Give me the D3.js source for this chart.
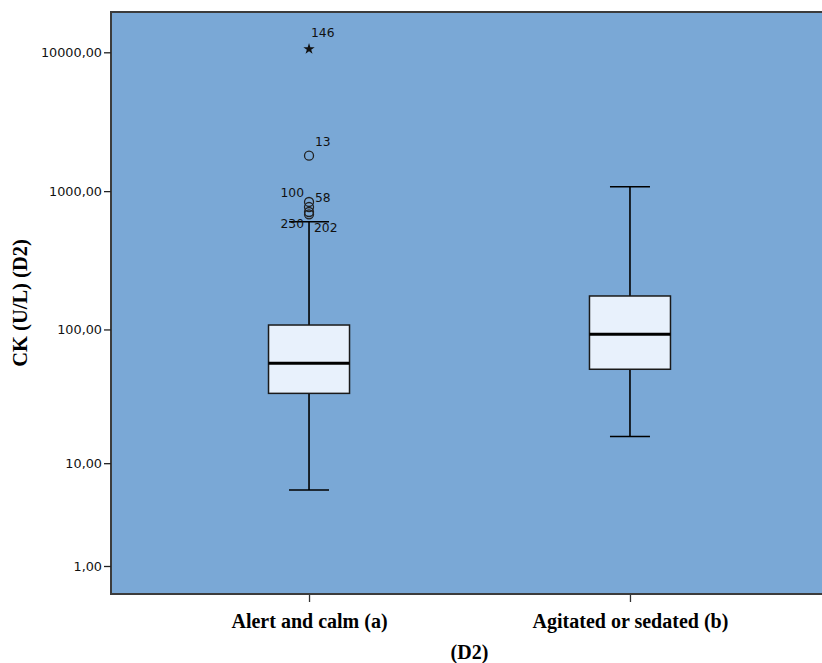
<!DOCTYPE html>
<html><head><meta charset="utf-8">
<script src="https://cdn.jsdelivr.net/npm/d3@7"></script>
<style>body{margin:0;background:#fff}svg{display:block}</style>
</head><body>
<svg id="c" width="822" height="663"></svg>
<script>
// ---- data ----
const categories = ["Alert and calm (a)", "Agitated or sedated (b)"];
const whiskerLow  = [6.05, 16.1];
const q1          = [34.0, 51.2];
const median      = [56.6, 92.2];
const q3          = [107.7, 174.9];
const whiskerHigh = [602, 1076];
const outlierIds    = ["146", "13", "100", "58", "230", "202"];
const outlierGroup  = [0, 0, 0, 0, 0, 0];
const outlierValues = [10560, 1800, 835, 768, 707, 680];
const outlierKind   = ["extreme", "outlier", "outlier", "outlier", "outlier", "outlier"];
const yTicks = [1, 10, 100, 1000, 10000];

// ---- layout ----
const plot = {left: 111, top: 12, right: 830, bottom: 594};
const labelPlace = {
  "146": {dx: 2, dy: -12, anchor: "start"},
  "13":  {dx: 6, dy: -10, anchor: "start"},
  "100": {dx: -5, dy: -5, anchor: "end"},
  "58":  {dx: 6, dy: -5, anchor: "start"},
  "230": {dx: -5, dy: 16, anchor: "end"},
  "202": {dx: 5, dy: 18, anchor: "start"}
};

const svg = d3.select("#c");

const x = d3.scalePoint().domain(categories).range([plot.left, 828]).padding(0.617);
// SPSS "safe log" scale: log(1 + v)
const y = d3.scaleSymlog().constant(1).domain([0, 10000]).range([607.8, 52.3]);

// background
svg.append("rect").attr("x", plot.left).attr("y", plot.top)
  .attr("width", plot.right - plot.left).attr("height", plot.bottom - plot.top)
  .attr("fill", "#7aa8d6").attr("stroke", "#3c3c3c").attr("stroke-width", 2);

// y axis
const yAxis = d3.axisLeft(y).tickValues(yTicks).tickSize(7).tickPadding(2)
  .tickFormat(d => d3.format(".2f")(d).replace(".", ","));
const ga = svg.append("g").attr("transform", `translate(${plot.left},0)`).call(yAxis);
ga.select(".domain").remove();
ga.selectAll(".tick line").attr("stroke", "#222").attr("stroke-width", 1.3);
ga.selectAll(".tick text").attr("font-family", "DejaVu Sans, sans-serif")
  .attr("font-size", 12.8).attr("fill", "#111");

// x axis
const xAxis = d3.axisBottom(x).tickSize(7).tickPadding(12);
const gx = svg.append("g").attr("transform", `translate(0,${plot.bottom + 1})`).call(xAxis);
gx.select(".domain").remove();
gx.selectAll(".tick line").attr("stroke", "#333").attr("stroke-width", 1.3);
gx.selectAll(".tick text").attr("font-family", "Liberation Serif, serif")
  .attr("font-weight", "bold").attr("font-size", 20).attr("fill", "#000");

// titles
svg.append("text").attr("x", (plot.left + 828) / 2).attr("y", 659)
  .attr("text-anchor", "middle").attr("font-family", "Liberation Serif, serif")
  .attr("font-weight", "bold").attr("font-size", 20).text("(D2)");
svg.append("text").attr("transform", `translate(27,${(plot.top + plot.bottom) / 2}) rotate(-90)`)
  .attr("text-anchor", "middle").attr("font-family", "Liberation Serif, serif")
  .attr("font-weight", "bold").attr("font-size", 20.5).text("CK (U/L) (D2)");

// boxes
const boxW = 81, capW = 40;
categories.forEach((c, i) => {
  const cx = x(c);
  const g = svg.append("g");
  g.append("line").attr("x1", cx).attr("x2", cx).attr("y1", y(whiskerHigh[i])).attr("y2", y(q3[i]))
    .attr("stroke", "#000").attr("stroke-width", 1.6);
  g.append("line").attr("x1", cx).attr("x2", cx).attr("y1", y(q1[i])).attr("y2", y(whiskerLow[i]))
    .attr("stroke", "#000").attr("stroke-width", 1.6);
  [whiskerHigh[i], whiskerLow[i]].forEach(v => {
    g.append("line").attr("x1", cx - capW / 2).attr("x2", cx + capW / 2).attr("y1", y(v)).attr("y2", y(v))
      .attr("stroke", "#000").attr("stroke-width", 1.6);
  });
  g.append("rect").attr("x", cx - boxW / 2).attr("y", y(q3[i]))
    .attr("width", boxW).attr("height", y(q1[i]) - y(q3[i]))
    .attr("fill", "#e8f1fc").attr("stroke", "#1a1a1a").attr("stroke-width", 1.5);
  g.append("line").attr("x1", cx - boxW / 2).attr("x2", cx + boxW / 2).attr("y1", y(median[i])).attr("y2", y(median[i]))
    .attr("stroke", "#000").attr("stroke-width", 3);
});

// outliers
outlierIds.forEach((id, k) => {
  const cx = x(categories[outlierGroup[k]]), cy = y(outlierValues[k]);
  if (outlierKind[k] === "extreme") {
    svg.append("path").attr("d", d3.symbol(d3.symbolStar, 40)())
      .attr("transform", `translate(${cx},${cy})`).attr("fill", "#111");
  } else {
    svg.append("circle").attr("cx", cx).attr("cy", cy).attr("r", 4.5)
      .attr("fill", "none").attr("stroke", "#222").attr("stroke-width", 1.3);
  }
  const p = labelPlace[id];
  svg.append("text").attr("x", cx + p.dx).attr("y", cy + p.dy).attr("text-anchor", p.anchor)
    .attr("font-family", "DejaVu Sans, sans-serif").attr("font-size", 12.3).attr("fill", "#111").text(id);
});
</script>
</body></html>
